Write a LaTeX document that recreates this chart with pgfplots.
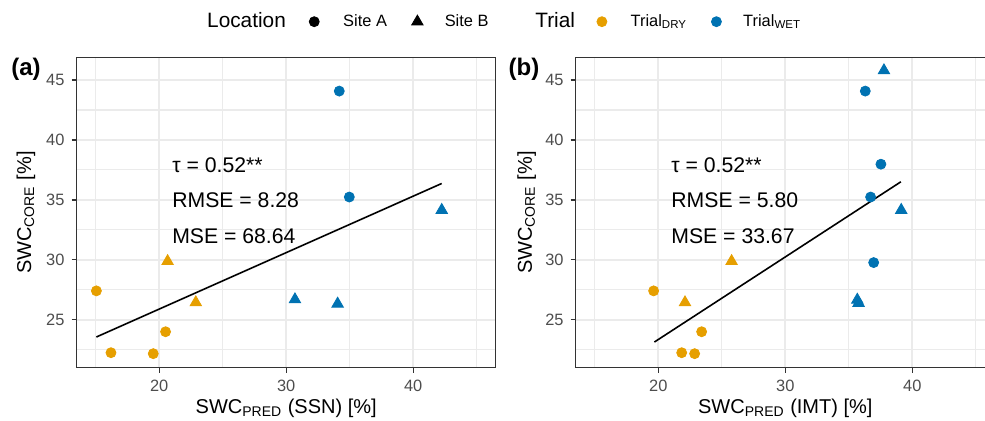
\documentclass[border=0pt]{standalone}
\usepackage{fontspec}
\setmainfont{Liberation Sans}
\usepackage{pgfplots}
\pgfplotsset{compat=1.18}
\definecolor{dry}{HTML}{E69F00}
\definecolor{wet}{HTML}{0072B2}
\definecolor{gridc}{HTML}{EBEBEB}
\definecolor{framec}{HTML}{333333}
\definecolor{ticklab}{HTML}{4D4D4D}
\newcommand\basefont{\fontsize{10.6}{12}\selectfont}
\newcommand\legtitlefont{\fontsize{10.4}{12}\selectfont}
\newcommand\smallfont{\fontsize{8.2}{10}\selectfont}
\newcommand\tagfont{\fontsize{12}{14}\selectfont\bfseries}
\pgfplotsset{
 panel/.style={
  scale only axis, width=209.5pt, height=155.2pt, anchor=south west,
  xmin=13.5, xmax=46.5, ymin=21.0, ymax=46.9,
  xtick={20,30,40}, ytick={25,30,35,40,45},
  minor xtick={15,25,35,45}, minor ytick={22.5,27.5,32.5,37.5,42.5},
  grid=both,
  major grid style={draw=gridc, line width=1pt},
  minor grid style={draw=gridc, line width=0.55pt},
  axis line style={draw=framec, line width=0.6pt},
  tick align=outside, xtick pos=bottom, ytick pos=left,
  major tick length=2.6pt, minor tick length=0pt,
  tick style={draw=framec, line width=0.6pt},
  ticklabel style={font=\smallfont, text=ticklab},
  /pgf/number format/assume math mode=true,
  xlabel style={font=\basefont}, ylabel style={font=\basefont},
  every axis x label/.style={at={(axis description cs:0.5,-0.13)}, anchor=center},
  every axis y label/.style={at={(axis description cs:-0.121,0.5)}, anchor=center, rotate=90},
  clip=false,
 },
 drypt/.style={only marks, mark=*, mark size=2.5pt, draw=dry, fill=dry, mark options={draw=dry, fill=dry}},
 drytri/.style={only marks, mark=triangle*, mark size=3.3pt, draw=dry, fill=dry, mark options={draw=dry, fill=dry}},
 wetpt/.style={only marks, mark=*, mark size=2.5pt, draw=wet, fill=wet, mark options={draw=wet, fill=wet}},
 wettri/.style={only marks, mark=triangle*, mark size=3.3pt, draw=wet, fill=wet, mark options={draw=wet, fill=wet}},
 fitline/.style={black, line width=0.8pt, mark=none},
 legTitleA/.style={legend image code/.code={\path (0,0) (0,0);}},
 legSiteA/.style={legend image code/.code={\path (-14pt,0) (14.3pt,0); \fill[black] (0,0) circle (2.5pt);}},
 legSiteB/.style={legend image code/.code={\path (-15pt,0) (13.5pt,0); \fill[black] (0,3.3pt) -- (-2.858pt,-1.65pt) -- (2.858pt,-1.65pt) -- cycle;}},
 legTitleB/.style={legend image code/.code={\path (0,0) (23pt,0);}},
 legDry/.style={legend image code/.code={\path (-13.25pt,0) (14.2pt,0); \fill[dry] (0,0) circle (2.5pt);}},
 legWet/.style={legend image code/.code={\path (-14.5pt,0) (13.2pt,0); \fill[wet] (0,0) circle (2.5pt);}},
}
\begin{document}
\begin{tikzpicture}
% ---------- panel (a)
\begin{axis}[panel, at={(38.35pt,26.65pt)},
  xlabel={SWC\textsubscript{PRED} (SSN) [\%]},
  ylabel={SWC\textsubscript{CORE} [\%]},
  legend columns=-1,
  legend style={at={(axis description cs:0.3086,1.1147)}, anchor=west,
    draw=none, fill=none, inner sep=0pt, column sep=0pt,
    nodes={inner sep=0pt, font=\smallfont}},
]
\addlegendimage{legTitleA}
\addlegendentry{\legtitlefont Location}
\addlegendimage{legSiteA}
\addlegendentry{Site A}
\addlegendimage{legSiteB}
\addlegendentry{Site B}
\addlegendimage{legTitleB}
\addlegendentry{\legtitlefont Trial}
\addlegendimage{legDry}
\addlegendentry{Trial\textsubscript{DRY}}
\addlegendimage{legWet}
\addlegendentry{Trial\textsubscript{WET}}

\addplot[fitline, forget plot] coordinates {(15.05,23.56) (42.25,36.37)};
\addplot[drypt, forget plot] coordinates {(15.05,27.41) (16.20,22.25) (19.53,22.17) (20.50,24.00)};
\addplot[drytri, forget plot] coordinates {(20.66,29.88) (22.88,26.44)};
\addplot[wetpt, forget plot] coordinates {(34.18,44.08) (34.97,35.24)};
\addplot[wettri, forget plot] coordinates {(42.25,34.15) (30.69,26.69) (34.05,26.33)};
\node[anchor=west, inner sep=0pt, font=\basefont] at (axis cs:21,37.9) {τ = 0.52**};
\node[anchor=west, inner sep=0pt, font=\basefont] at (axis cs:21,35.0) {RMSE = 8.28};
\node[anchor=west, inner sep=0pt, font=\basefont] at (axis cs:21,32.0) {MSE = 68.64};
\node[font=\tagfont] at (axis description cs:-0.121,0.962) {(a)};
\end{axis}
% ---------- panel (b)
\begin{axis}[panel, at={(287.9pt,26.65pt)},
  xlabel={SWC\textsubscript{PRED} (IMT) [\%]},
  ylabel={SWC\textsubscript{CORE} [\%]},
  every axis y label/.style={at={(axis description cs:-0.117,0.5)}, anchor=center, rotate=90},
]
\addplot[fitline] coordinates {(19.69,23.14) (39.10,36.51)};
\addplot[drypt] coordinates {(19.63,27.41) (21.84,22.25) (22.86,22.17) (23.41,24.00)};
\addplot[drytri] coordinates {(25.77,29.88) (22.10,26.44)};
\addplot[wetpt] coordinates {(36.30,44.08) (37.53,37.98) (36.72,35.24) (36.96,29.77)};
\addplot[wettri] coordinates {(37.77,45.80) (39.13,34.15) (35.67,26.66) (35.77,26.39)};
\node[anchor=west, inner sep=0pt, font=\basefont] at (axis cs:21,37.9) {τ = 0.52**};
\node[anchor=west, inner sep=0pt, font=\basefont] at (axis cs:21,35.0) {RMSE = 5.80};
\node[anchor=west, inner sep=0pt, font=\basefont] at (axis cs:21,32.0) {MSE = 33.67};
\node[font=\tagfont] at (axis description cs:-0.1236,0.962) {(b)};
\end{axis}
\pgfresetboundingbox
\path[use as bounding box] (0,0) rectangle (492.5pt,210.5pt);
\end{tikzpicture}
\end{document}
